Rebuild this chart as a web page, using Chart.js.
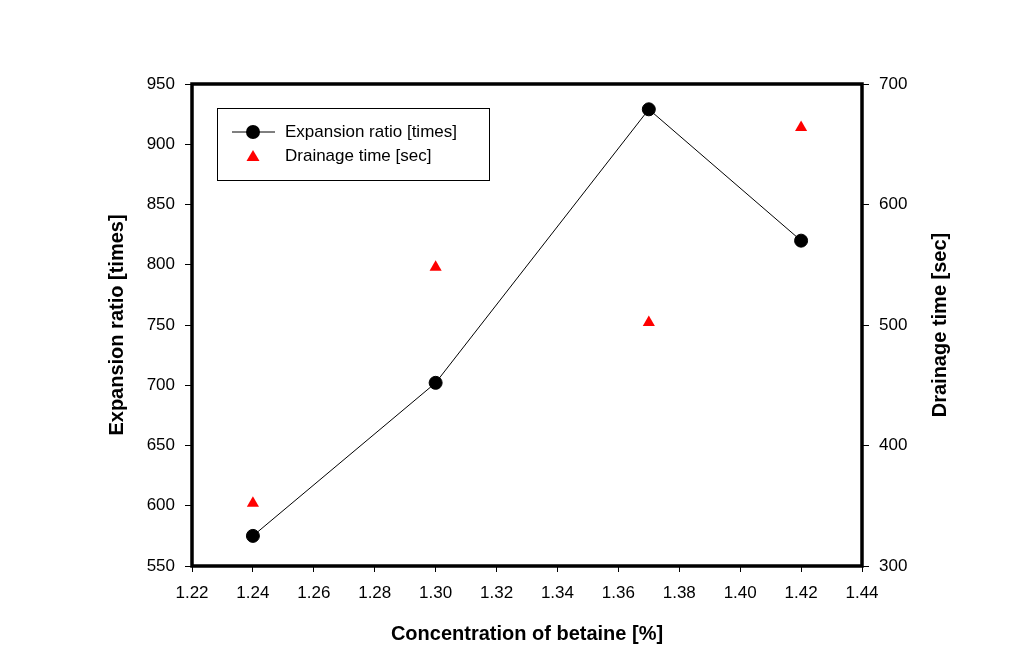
<!DOCTYPE html>
<html lang="en">
<head>
  <meta charset="UTF-8">
  <title>Expansion ratio and drainage time vs betaine concentration</title>
  <script src="https://cdn.jsdelivr.net/npm/chart.js"></script>
  <style>
    body { margin: 0; background: #fff; }
    #wrap { width: 1032px; height: 672px; }
  </style>
</head>
<body>
  <div id="wrap"><canvas id="chart" width="1032" height="672"></canvas></div>

  <script>
    // values
    const concentration  = [1.24, 1.30, 1.37, 1.42];
    const expansionRatio = [575, 702, 929, 820];
    const drainageTime   = [352, 548, 502, 664];

    const xTicks     = [1.22, 1.24, 1.26, 1.28, 1.30, 1.32, 1.34, 1.36, 1.38, 1.40, 1.42, 1.44];
    const leftTicks  = [550, 600, 650, 700, 750, 800, 850, 900, 950];
    const rightTicks = [300, 400, 500, 600, 700];

    const rightTitle = 'Drainage time [sec]';
    const FONT = "'Liberation Sans', Arial, sans-serif";

    const useTicks = arr => scale => { scale.ticks = arr.map(v => ({ value: v })); };

    // frame around the plot, right axis title (reads bottom-up) and legend box
    const framePlugin = {
      id: 'frame',
      afterDraw(chart) {
        const { ctx, chartArea: a } = chart;
        ctx.save();
        ctx.strokeStyle = '#000';
        ctx.lineWidth = 3.5;
        ctx.strokeRect(a.left, a.top, a.right - a.left, a.bottom - a.top);

        // right title
        ctx.save();
        ctx.translate(940, (a.top + a.bottom) / 2);
        ctx.rotate(-Math.PI / 2);
        ctx.font = 'bold 20px ' + FONT;
        ctx.fillStyle = '#000';
        ctx.textAlign = 'center';
        ctx.textBaseline = 'middle';
        ctx.fillText(rightTitle, 0, 0);
        ctx.restore();

        // legend
        ctx.lineWidth = 1;
        ctx.strokeRect(217.5, 108.5, 272, 72);
        ctx.font = '17px ' + FONT;
        ctx.textBaseline = 'middle';
        const ds = chart.data.datasets;

        ctx.beginPath();
        ctx.moveTo(232, 132);
        ctx.lineTo(275, 132);
        ctx.stroke();
        ctx.fillStyle = '#000';
        ctx.beginPath();
        ctx.arc(253, 132, 7, 0, Math.PI * 2);
        ctx.fill();
        ctx.fillText(ds[0].label, 285, 132);

        ctx.fillStyle = '#ff0000';
        ctx.beginPath();
        ctx.moveTo(253, 150);
        ctx.lineTo(259.5, 161);
        ctx.lineTo(246.5, 161);
        ctx.closePath();
        ctx.fill();
        ctx.fillStyle = '#000';
        ctx.fillText(ds[1].label, 285, 156);
        ctx.restore();
      }
    };

    new Chart(document.getElementById('chart'), {
      type: 'scatter',
      data: {
        datasets: [
          {
            label: 'Expansion ratio [times]',
            data: concentration.map((c, i) => ({ x: c, y: expansionRatio[i] })),
            yAxisID: 'y',
            showLine: true,
            borderColor: '#000',
            borderWidth: 1,
            backgroundColor: '#000',
            pointRadius: 6.5,
            pointBorderWidth: 1,
            pointBorderColor: '#000',
            pointBackgroundColor: '#000'
          },
          {
            label: rightTitle,
            data: concentration.map((c, i) => ({ x: c, y: drainageTime[i] })),
            yAxisID: 'y2',
            showLine: false,
            pointStyle: 'triangle',
            pointRadius: 7,
            pointBorderWidth: 0,
            pointBackgroundColor: '#ff0000',
            pointBorderColor: '#ff0000'
          }
        ]
      },
      options: {
        responsive: false,
        animation: false,
        layout: { padding: { top: 84, left: 0, right: 0, bottom: 0 } },
        plugins: { legend: { display: false }, tooltip: { enabled: false } },
        scales: {
          x: {
            type: 'linear',
            position: 'bottom',
            min: 1.22, max: 1.44,
            afterBuildTicks: useTicks(xTicks),
            afterFit: s => { s.height = 106; },
            border: { display: false },
            grid: { drawOnChartArea: false, drawTicks: true, tickLength: 6, color: '#000', lineWidth: 1 },
            ticks: {
              color: '#000', padding: 11, maxRotation: 0, autoSkip: false,
              font: { family: FONT, size: 17 },
              callback: v => v.toFixed(2)
            },
            title: {
              display: true, text: 'Concentration of betaine [%]', color: '#000',
              font: { family: FONT, size: 20, weight: 'bold' },
              padding: { bottom: 26 }
            }
          },
          y: {
            type: 'linear',
            position: 'left',
            min: 550, max: 950,
            afterBuildTicks: useTicks(leftTicks),
            afterFit: s => { s.width = 192; },
            border: { display: false },
            grid: { drawOnChartArea: false, drawTicks: true, tickLength: 7, color: '#000', lineWidth: 1 },
            ticks: { color: '#000', padding: 10, font: { family: FONT, size: 17 } },
            title: {
              display: true, text: 'Expansion ratio [times]', color: '#000',
              font: { family: FONT, size: 20, weight: 'bold' },
              padding: { top: 105 }
            }
          },
          y2: {
            type: 'linear',
            position: 'right',
            min: 300, max: 700,
            afterBuildTicks: useTicks(rightTicks),
            afterFit: s => { s.width = 170; },
            border: { display: false },
            grid: { drawOnChartArea: false, drawTicks: true, tickLength: 7, color: '#000', lineWidth: 1 },
            ticks: { color: '#000', padding: 10, font: { family: FONT, size: 17 } },
            title: { display: false }
          }
        }
      },
      plugins: [framePlugin]
    });
  </script>
</body>
</html>
